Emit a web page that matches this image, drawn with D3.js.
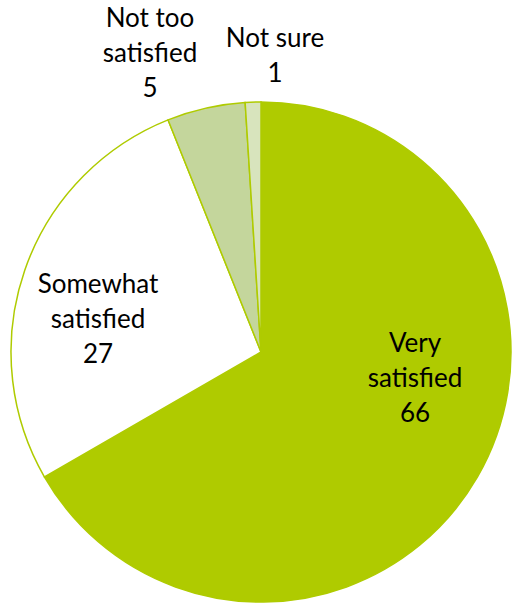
<!DOCTYPE html>
<html>
<head>
<meta charset="utf-8">
<style>
  body { margin: 0; background: #fff; }
  text { font-family: Lato, "Open Sans", sans-serif; font-size: 26px; fill: #000; }
</style>
</head>
<body>
<svg id="chart" width="512" height="606"></svg>

<script src="https://d3js.org/d3.v7.min.js"></script>
<script>
  // data
  var categories = ["Very satisfied", "Somewhat satisfied", "Not too satisfied", "Not sure"];
  var values = [66, 27, 5, 1];
  var colors = ["#afcb00", "#ffffff", "#c4d69c", "#d8e4bd"];

  // label lines and where they sit (relative to the pie centre)
  var labelLines = [["Very", "satisfied", "66"], ["Somewhat", "satisfied", "27"], ["Not too", "satisfied", "5"], ["Not sure", "1"]];
  var labelPos = [[154, 0], [-163, -59], [-111, -325], [14, -305]];

  var svg = d3.select("#chart");
  var cx = 261, cy = 352, r = 250;

  var g = svg.append("g").attr("transform", "translate(" + cx + "," + cy + ")");

  var pie = d3.pie().sort(null).value(function (d) { return d; });
  var arc = d3.arc().innerRadius(0).outerRadius(r);
  var arcs = pie(values);

  g.selectAll("path")
    .data(arcs)
    .enter()
    .append("path")
    .attr("d", arc)
    .style("fill", function (d, i) { return colors[i]; })
    .style("stroke", "#afcb00")
    .style("stroke-width", 1.5);

  // labels
  var lab = svg.selectAll("g.lab")
    .data(categories)
    .enter()
    .append("g")
    .attr("class", "lab")
    .attr("transform", function (d, i) { return "translate(" + (cx + labelPos[i][0]) + "," + (cy + labelPos[i][1]) + ")"; });

  lab.each(function (d, i) {
    var lines = labelLines[i];
    d3.select(this).selectAll("text")
      .data(lines)
      .enter()
      .append("text")
      .attr("text-anchor", "middle")
      .attr("y", function (t, j) { return j * 35; })
      .text(function (t) { return t; });
  });
</script>
</body>
</html>
